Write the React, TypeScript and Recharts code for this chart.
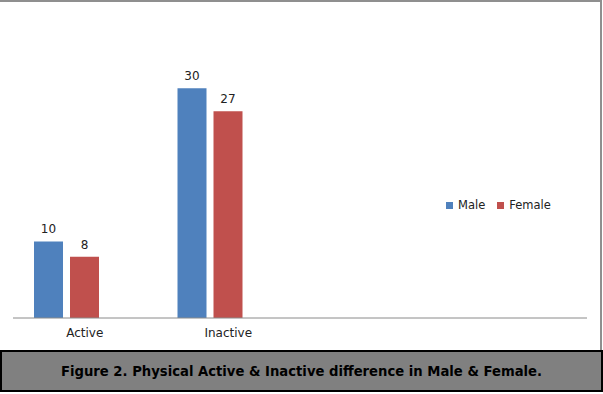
import { BarChart, Bar, XAxis, YAxis, LabelList } from "recharts";

const categories = ["Active", "Inactive", "", " "];
const male = [10, 30, null, null];
const female = [8, 27, null, null];
// Excel chart had an empty third series, which shifts the bars left of the labels
const blank = [null, null, null, null];

const series = [
  { key: "male", name: "Male", color: "#4f81bd" },
  { key: "female", name: "Female", color: "#c0504d" },
];

const data = categories.map((c, i) => ({
  name: c,
  male: male[i],
  female: female[i],
  blank: blank[i],
}));

const FONT = "'DejaVu Sans', Verdana, sans-serif";

export default function App() {
  return (
    <div
      style={{
        position: "absolute",
        left: 0,
        top: 0,
        width: 603,
        height: 394,
        background: "#fff",
        fontFamily: FONT,
      }}
    >
      <div
        style={{
          position: "absolute",
          left: 0,
          top: 0,
          width: 600,
          height: 350,
          borderTop: "2px solid #8f8f8f",
          borderRight: "2px solid #8f8f8f",
        }}
      />
      <div style={{ position: "absolute", left: 0, top: 0 }}>
        <BarChart
          width={603}
          height={350}
          data={data}
          margin={{ top: 50, right: 16, left: 13, bottom: 0 }}
          barSize={29}
          barGap={7}
        >
          <XAxis
            dataKey="name"
            height={32}
            tickLine={false}
            axisLine={{ stroke: "#8a8a8a" }}
            tickMargin={4}
            tick={{ fontSize: 12, fill: "#222", fontFamily: FONT }}
          />
          <YAxis hide domain={[0, 35]} />
          {series.map((s) => (
            <Bar key={s.key} dataKey={s.key} name={s.name} fill={s.color} isAnimationActive={false}>
              <LabelList dataKey={s.key} position="top" offset={8} fill="#222" fontSize={12} fontFamily={FONT} />
            </Bar>
          ))}
          <Bar dataKey="blank" legendType="none" fill="none" isAnimationActive={false} />
        </BarChart>
      </div>
      <div
        style={{
          position: "absolute",
          left: 446,
          top: 198,
          display: "flex",
          alignItems: "center",
          fontSize: 11.5,
          color: "#222",
        }}
      >
        {series.map((s) => (
          <div key={s.key} style={{ display: "flex", alignItems: "center", marginRight: 12 }}>
            <span style={{ width: 7, height: 7, background: s.color, marginRight: 5 }} />
            <span>{s.name}</span>
          </div>
        ))}
      </div>
      <div
        style={{
          position: "absolute",
          left: 0,
          top: 350,
          width: 599,
          height: 38,
          background: "#808080",
          border: "2px solid #000",
          display: "flex",
          alignItems: "center",
          justifyContent: "center",
          fontWeight: "bold",
          fontSize: 13.2,
          color: "#000",
        }}
      >
        Figure 2. Physical Active &amp; Inactive difference in Male &amp; Female.
      </div>
    </div>
  );
}
